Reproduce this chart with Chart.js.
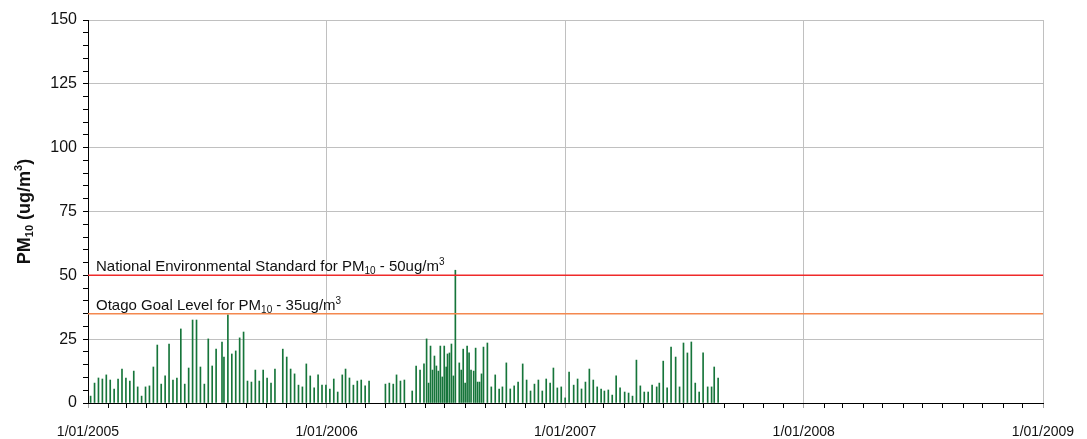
<!DOCTYPE html>
<html>
<head>
<meta charset="utf-8">
<script src="https://cdn.jsdelivr.net/npm/chart.js@4.4.0/dist/chart.umd.min.js"></script>
<style>
  html, body { margin: 0; padding: 0; background: #fff; }
</style>
</head>
<body>
<canvas id="pmChart" width="1087" height="439"></canvas>
<script>
// sample days (days since 1/01/2005) and PM10 values in ug/m3
const sampleDay = [
  4, 10, 16, 22, 28, 34, 40, 46, 52, 58, 64, 70, 76, 82, 88, 94, 100, 106, 112, 118,
  124, 130, 136, 142, 148, 154, 160, 166, 172, 178, 184, 190, 196, 205, 208, 214, 220, 226, 232, 238,
  244, 250, 256, 262, 268, 274, 280, 286, 298, 304, 310, 316, 322, 328, 334, 340, 346, 352, 358, 364,
  370, 376, 382, 389, 394, 400, 406, 412, 418, 424, 430, 455, 461, 467, 472, 478, 484, 496, 502, 508,
  514, 518, 521, 524, 527, 530, 533, 536, 539, 542, 545, 548, 550, 553, 556, 559, 562, 568, 571, 574,
  577, 580, 583, 586, 590, 593, 596, 599, 602, 605, 611, 617, 623, 629, 634, 640, 646, 652, 658, 665,
  671, 677, 683, 689, 695, 701, 707, 712, 718, 724, 730, 736, 743, 749, 755, 761, 767, 773, 779, 785,
  790, 796, 802, 808, 814, 821, 827, 833, 839, 845, 851, 857, 863, 870, 874, 880, 886, 892, 899, 905,
  911, 917, 923, 929, 935, 941, 948, 954, 958, 964
];
const pm10 = [
  2.7, 7.8, 9.8, 9.4, 11, 9, 5.5, 9.4, 13.3, 9.8, 8.6, 12.5, 6.3, 2.7, 6.3, 6.7, 14.1, 22.7, 7.4, 10.6,
  23.1, 9, 9.8, 29, 7.4, 13.7, 32.5, 32.5, 14.1, 7.4, 25.1, 14.5, 21.1, 23.9, 18, 34.5, 19.2, 20.4, 25.5, 27.8,
  8.6, 8.2, 12.9, 8.6, 12.9, 9.8, 7.8, 13.3, 21.1, 18, 13.3, 11.4, 7, 6.3, 15.3, 10.6, 5.9, 11, 7, 7,
  5.5, 9.4, 4.3, 11, 13.3, 9.8, 7, 8.6, 9, 6.7, 8.6, 7.4, 7.8, 7.4, 11, 8.6, 9, 4.7, 14.5, 12.9,
  15.3, 25.1, 7.8, 22.3, 12.9, 18.4, 14.5, 12.5, 22.3, 10.2, 22.3, 14.1, 19.2, 19.6, 23.1, 10.6, 52, 15.7, 12.9, 21.1,
  7.8, 22.3, 19.6, 12.9, 12.5, 21.5, 8.2, 8.2, 11.4, 21.9, 23.5, 6.3, 11, 5.5, 6.3, 15.7, 5.5, 6.7, 8.2, 15.3,
  9, 4.7, 7.4, 9, 4.7, 9.4, 7.8, 13.7, 5.9, 6.3, 2, 12.1, 7, 9.4, 5.5, 8.2, 13.3, 9, 6.3, 5.5,
  4.7, 5.1, 3.1, 10.6, 5.9, 4.3, 3.9, 2.7, 16.8, 6.7, 4.3, 4.3, 7, 6.3, 7.8, 16.4, 5.9, 21.9, 18, 6.3,
  23.5, 19.6, 23.9, 7.8, 4.3, 19.6, 6.3, 6.3, 14.1, 9.8
];

const yearStarts = [2005, 2006, 2007, 2008, 2009];
const xTickLabels = ['1/01/2005', '1/01/2006', '1/01/2007', '1/01/2008', '1/01/2009'];
const yTickLabels = [0, 25, 50, 75, 100, 125, 150];
const yMinorStep = 5;

const standardValue = 50;
const goalValue = 35;

const FONT = 'Liberation Sans, Arial, sans-serif';

function daysSince2005(y, m) {
  return Math.round((Date.UTC(y, m, 1) - Date.UTC(2005, 0, 1)) / 86400000);
}

const yearDays = yearStarts.map(y => daysSince2005(y, 0));
const monthDays = [];
for (let y = 2005; y < 2009; y++) {
  for (let m = 0; m < 12; m++) monthDays.push(daysSince2005(y, m));
}
monthDays.push(daysSince2005(2009, 0));

const yMinorTicks = [];
for (let v = 0; v <= 150; v += yMinorStep) yMinorTicks.push(v);

const barData = sampleDay.map((d, i) => ({ x: d, y: pm10[i] }));
const xMax = yearDays[yearDays.length - 1];

// draws text pieces with sub/superscripts: [text, size, baseline shift]
function drawRich(ctx, parts, x, y, weight, centred) {
  let total = 0;
  parts.forEach(p => {
    ctx.font = weight + ' ' + p[1] + 'px ' + FONT;
    total += ctx.measureText(p[0]).width;
  });
  let cx = centred ? x - total / 2 : x;
  parts.forEach(p => {
    ctx.font = weight + ' ' + p[1] + 'px ' + FONT;
    ctx.fillText(p[0], cx, y + p[2]);
    cx += ctx.measureText(p[0]).width;
  });
}

const textPlugin = {
  id: 'textPlugin',
  afterDraw(chart) {
    const { ctx, chartArea, scales } = chart;
    ctx.save();
    ctx.fillStyle = '#111';
    ctx.textBaseline = 'alphabetic';
    ctx.textAlign = 'left';

    drawRich(ctx, [
      ['National Environmental Standard for PM', 15, 0],
      ['10', 10, 3],
      [' - 50ug/m', 15, 0],
      ['3', 10, -6]
    ], chartArea.left + 8, scales.y.getPixelForValue(standardValue) - 4, 'normal', false);

    drawRich(ctx, [
      ['Otago Goal Level for PM', 15, 0],
      ['10', 10, 3],
      [' - 35ug/m', 15, 0],
      ['3', 10, -6]
    ], chartArea.left + 8, scales.y.getPixelForValue(goalValue) - 4, 'normal', false);

    ctx.translate(30, (chartArea.top + chartArea.bottom) / 2);
    ctx.rotate(-Math.PI / 2);
    drawRich(ctx, [
      ['PM', 18, 0],
      ['10', 11, 3],
      [' (ug/m', 18, 0],
      ['3', 11, -8],
      [')', 18, 0]
    ], 0, 0, 'bold', true);
    ctx.restore();
  }
};

const ctx = document.getElementById('pmChart').getContext('2d');

new Chart(ctx, {
  type: 'bar',
  data: {
    datasets: [
      {
        type: 'bar',
        data: barData,
        backgroundColor: '#16753a',
        borderWidth: 0,
        barThickness: 1,
        order: 2
      },
      {
        type: 'line',
        data: [{ x: 0, y: standardValue }, { x: xMax, y: standardValue }],
        borderColor: '#ef2a2a',
        borderWidth: 1.5,
        pointRadius: 0,
        order: 1
      },
      {
        type: 'line',
        data: [{ x: 0, y: goalValue }, { x: xMax, y: goalValue }],
        borderColor: '#f4884f',
        borderWidth: 1.5,
        pointRadius: 0,
        order: 1
      }
    ]
  },
  options: {
    responsive: false,
    animation: false,
    devicePixelRatio: 1,
    layout: { padding: { left: 0, right: 44, top: 20, bottom: 0 } },
    plugins: {
      legend: { display: false },
      tooltip: { enabled: false }
    },
    scales: {
      x: {
        type: 'linear',
        min: 0,
        max: xMax,
        offset: false,
        afterBuildTicks: s => { s.ticks = monthDays.map(v => ({ value: v })); },
        afterFit: s => { s.height = 36; s.paddingLeft = 0; s.paddingRight = 0; },
        ticks: {
          autoSkip: false,
          maxRotation: 0,
          padding: 16,
          color: '#111',
          font: { size: 14, family: FONT },
          callback: v => {
            const i = yearDays.indexOf(v);
            return i >= 0 ? xTickLabels[i] : '';
          }
        },
        grid: {
          offset: false,
          lineWidth: 1,
          tickLength: 5,
          color: c => yearDays.includes(c.tick.value) ? '#c0c0c0' : 'rgba(0,0,0,0)',
          tickColor: c => yearDays.includes(c.tick.value) ? '#a0a0a0' : '#000'
        },
        border: { color: '#000', width: 1 }
      },
      y: {
        min: 0,
        max: 150,
        afterBuildTicks: s => { s.ticks = yMinorTicks.map(v => ({ value: v })); },
        afterFit: s => { s.width = 88; s.paddingTop = 0; s.paddingBottom = 0; },
        ticks: {
          autoSkip: false,
          padding: 6,
          color: '#111',
          font: { size: 16, family: FONT },
          callback: v => yTickLabels.includes(v) ? String(v) : ''
        },
        grid: {
          lineWidth: 1,
          tickLength: 5,
          color: c => yTickLabels.includes(c.tick.value) ? '#c0c0c0' : 'rgba(0,0,0,0)',
          tickColor: '#000'
        },
        border: { color: '#000', width: 1 }
      }
    }
  },
  plugins: [textPlugin]
});
</script>
</body>
</html>
